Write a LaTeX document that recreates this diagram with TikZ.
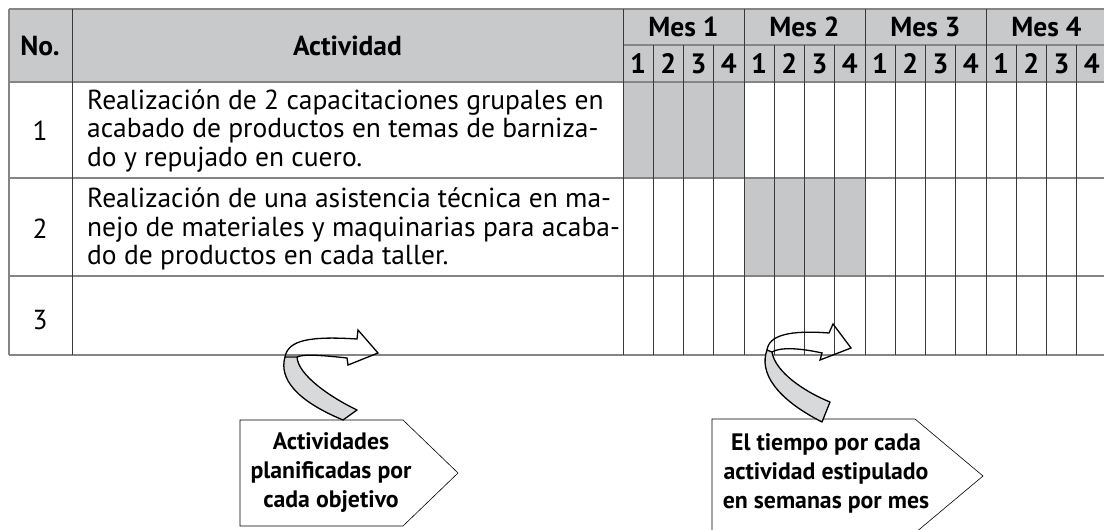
\documentclass[tikz,border=0pt]{standalone}
\usepackage{fontspec}
\setmainfont{PT Sans}
\definecolor{hdrgray}{HTML}{C8C9CB}
\definecolor{cellgray}{HTML}{C6C7C9}
\definecolor{ribgray}{HTML}{D8D9DB}
\definecolor{hline}{HTML}{858585}
\definecolor{vline}{HTML}{3A3A3A}
\tikzset{
  body/.style={font=\fontsize{27.5}{28.3}\selectfont, inner sep=0pt},
  bodyl/.style={body, align=left, anchor=west},
  hb/.style={font=\fontsize{27.5}{30}\selectfont\bfseries, inner sep=0pt},
  wk/.style={font=\fontsize{28}{30}\selectfont\bfseries, inner sep=0pt},
  callout/.style={draw=black, line width=0.6pt, fill=white},
  ctext/.style={font=\fontsize{23.8}{29}\selectfont\bfseries, align=center, inner sep=0pt},
  ribbon/.style={draw=black, line width=1.3pt, fill=ribgray, line join=round},
  band/.style={draw=black, line width=1.3pt, line join=miter},
}
\begin{document}
\begin{tikzpicture}[x=1pt,y=-1pt]
\useasboundingbox (0,0) rectangle (1104,530);
\begin{scope}
\clip (0,0) rectangle (1104,530);
% fills
\fill[hdrgray] (9,9) rectangle (1107,82);
\fill[cellgray] (623,82) rectangle (744,178);
\fill[cellgray] (744,178) rectangle (865,276);
% horizontal lines
\foreach \y in {9,82,178,276,355} \draw[hline, line width=1.2pt] (9,\y) -- (1107,\y);
\draw[hline, line width=1.2pt] (623,45) -- (1107,45);
% vertical lines
\draw[hline, line width=1.2pt] (9,9) -- (9,355);
\draw[vline, line width=0.9pt] (72,9) -- (72,355);
\foreach \m in {0,1,2,3} \draw[vline, line width=0.9pt] ({623+121*\m},9) -- ({623+121*\m},355);
\foreach \k in {1,2,3,5,6,7,9,10,11,13,14,15} \draw[vline, line width=0.9pt] ({623+30.25*\k},45) -- ({623+30.25*\k},355);
\end{scope}
% header texts
\node[hb] (no) at (40,46) {No.};
\node[hb] (act) at (347.5,46) {Actividad};
\foreach \m in {1,2,3,4} \node[hb] (mes\m) at ({623+60.5+121*(\m-1)},27) {Mes \m};
\foreach \k in {0,...,15} {
  \pgfmathtruncatemacro{\w}{mod(\k,4)+1}
  \node[wk] (w\k) at ({623+15.125+30.25*\k},63.5) {\w};
}
% rows
\node[body] (n1) at (40,131) {1};
\node[bodyl] (t1) at (87,131) {Realización de 2 capacitaciones grupales en\\acabado de productos en temas de barniza-\\do y repujado en cuero.};
\node[body] (n2) at (40,229) {2};
\node[bodyl] (t2) at (87,229) {Realización de una asistencia técnica en ma-\\nejo de materiales y maquinarias para acaba-\\do de productos en cada taller.};
\node[body] (n3) at (40,320) {3};
% callouts
\draw[callout] (240,420) -- (403,420) -- (458,473) -- (403,526) -- (240,526) -- cycle;
\node[ctext] (c1) at (331,473) {Actividades\\planificadas por\\cada objetivo};
\draw[callout] (712,419) -- (915,419) -- (983,476) -- (915,533) -- (712,533) -- cycle;
\node[ctext] (c2) at (826,473) {El tiempo por cada\\actividad estipulado\\en semanas por mes};
% arrow 1
\draw[ribbon] (285,357) .. controls (279,378) and (295,400) .. (343,420) -- (357,410) .. controls (330,397) and (298,375) .. (297,357) -- cycle;
\draw[band] (285,357) .. controls (288,340) and (310,336) .. (357,339) -- (358,330) -- (378,353) -- (348,365) -- (347,358) .. controls (320,355) and (303,354) .. (297,357);
% arrow 2
\draw[ribbon] (767,350) .. controls (759,372) and (775,398) .. (822,422) -- (830,402) .. controls (805,392) and (775,372) .. (772,352) -- cycle;
\draw[band] (767,350) .. controls (769,335) and (790,330) .. (829,333) -- (833,324) -- (851,348) -- (820,360) -- (822,353) .. controls (800,348) and (780,347) .. (772,352);
\end{tikzpicture}
\end{document}
